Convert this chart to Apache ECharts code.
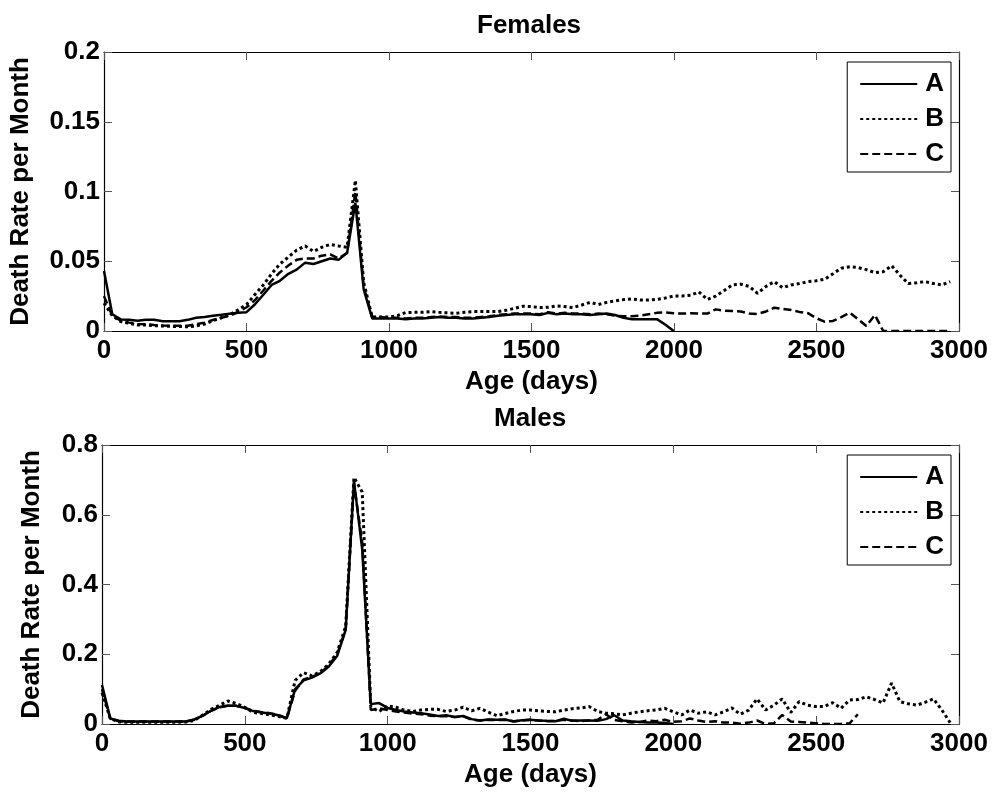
<!DOCTYPE html>
<html>
<head>
<meta charset="utf-8">
<script src="https://cdn.jsdelivr.net/npm/echarts@6/dist/echarts.min.js"></script>
<style>html,body{margin:0;padding:0;background:#fff}#c{width:996px;height:792px}</style>
</head>
<body>
<div id="c"></div>
<script>
// Age in days (monthly sampling)
const ages = [0,29,59,88,118,147,176,206,235,265,294,323,353,382,412,441,470,500,529,559,
588,617,647,676,706,735,764,794,823,853,882,911,941,970,1000,1029,1058,1088,1117,1147,
1176,1205,1235,1264,1294,1323,1352,1382,1411,1441,1470,1499,1529,1558,1588,1617,1646,1676,1705,1735,
1764,1793,1823,1852,1882,1911,1940,1970,1999,2029,2058,2087,2117,2146,2176,2205,2234,2264,2293,2323,
2352,2381,2411,2440,2470,2499,2528,2558,2587,2617,2646,2675,2705,2734,2764,2793,2822,2852,2881,2911,
2940,2969];

const seriesNames = ['A','B','C'];
const xTicks = [0,500,1000,1500,2000,2500,3000];
const femaleYTicks = [0,0.05,0.1,0.15,0.2];
const maleYTicks = [0,0.2,0.4,0.6,0.8];

// Females
const femaleA = [0.043,0.012,0.0083,0.008,0.0074,0.008,0.008,0.007,0.007,0.007,
0.008,0.0095,0.010,0.011,0.0117,0.0124,0.013,0.0135,0.019,0.026,
0.033,0.036,0.041,0.044,0.049,0.048,0.050,0.052,0.051,0.056,
0.092,0.030,0.009,0.009,0.009,0.009,0.0085,0.009,0.009,0.0095,
0.010,0.0095,0.0095,0.009,0.009,0.0095,0.010,0.011,0.0115,0.012,
0.012,0.012,0.0115,0.013,0.012,0.0125,0.012,0.012,0.0115,0.012,
0.0125,0.0115,0.0095,0.0085,0.0085,0.0085,0.0085,0.0045,0];
const femaleB = [0.020,0.011,0.0067,0.0055,0.0043,0.0043,0.0038,0.0036,0.0033,0.0033,
0.003,0.0036,0.005,0.0074,0.0095,0.0117,0.015,0.019,0.026,0.033,
0.041,0.048,0.053,0.058,0.061,0.057,0.060,0.062,0.061,0.060,
0.108,0.035,0.010,0.010,0.010,0.011,0.0132,0.0134,0.0134,0.0139,
0.0134,0.013,0.0127,0.0134,0.0139,0.0139,0.0139,0.014,0.0148,0.0163,
0.0177,0.0175,0.0168,0.017,0.018,0.0175,0.0168,0.0186,0.0205,0.019,
0.0205,0.0215,0.0225,0.023,0.0222,0.0222,0.0227,0.0237,0.0251,0.0251,
0.0256,0.028,0.0225,0.025,0.029,0.033,0.0335,0.032,0.027,0.032,
0.0354,0.031,0.033,0.034,0.0354,0.036,0.037,0.041,0.045,0.046,
0.0455,0.044,0.0418,0.0425,0.0468,0.040,0.034,0.0346,0.0354,0.034,
0.033,0.0354];
const femaleC = [0.025,0.011,0.0074,0.006,0.005,0.0048,0.0043,0.004,0.0038,0.0038,
0.0038,0.0048,0.006,0.0079,0.0095,0.011,0.0135,0.017,0.022,0.029,
0.036,0.042,0.047,0.051,0.052,0.052,0.054,0.055,0.052,0.056,
0.100,0.032,0.010,0.010,0.0095,0.0095,0.009,0.0095,0.0095,0.010,
0.0105,0.010,0.010,0.0095,0.0095,0.010,0.0105,0.0115,0.012,0.0125,
0.0125,0.0125,0.012,0.0135,0.0125,0.013,0.0125,0.0125,0.012,0.0125,
0.012,0.011,0.0105,0.0105,0.011,0.012,0.013,0.0133,0.0127,0.0125,
0.0127,0.0125,0.0125,0.0155,0.0146,0.0143,0.014,0.0125,0.0122,0.014,
0.0167,0.0158,0.015,0.0137,0.0128,0.0092,0.0067,0.0072,0.010,0.0131,
0.0084,0.0036,0.0115,0,0,0,0,0,0,0,
0,0];

// Males
const maleA = [0.112,0.016,0.0096,0.007,0.007,0.007,0.007,0.007,0.007,0.007,
0.007,0.013,0.024,0.038,0.049,0.053,0.052,0.046,0.037,0.033,
0.030,0.025,0.016,0.10,0.125,0.133,0.145,0.165,0.195,0.27,
0.697,0.50,0.057,0.060,0.046,0.040,0.036,0.033,0.031,0.027,
0.023,0.025,0.020,0.023,0.014,0.010,0.013,0.012,0.013,0.007,
0.011,0.012,0.010,0.009,0.008,0.015,0.009,0.010,0.010,0.009,
0.014,0.025,0.010,0.008,0.006,0.004,0.004,0.003,0];
const maleB = [0.09,0.015,0.006,0.005,0.005,0.005,0.005,0.005,0.005,0.005,
0.006,0.010,0.026,0.042,0.054,0.066,0.059,0.048,0.033,0.030,
0.026,0.022,0.016,0.125,0.147,0.138,0.150,0.172,0.205,0.28,
0.707,0.665,0.048,0.036,0.052,0.048,0.040,0.036,0.040,0.042,
0.042,0.036,0.040,0.048,0.038,0.045,0.034,0.024,0.030,0.036,
0.040,0.040,0.038,0.036,0.035,0.040,0.044,0.046,0.050,0.036,
0.031,0.029,0.026,0.031,0.035,0.038,0.040,0.045,0.035,0.026,
0.040,0.031,0.035,0.026,0.035,0.046,0.028,0.040,0.072,0.040,
0.054,0.072,0.033,0.064,0.054,0.050,0.050,0.061,0.045,0.069,
0.070,0.078,0.070,0.060,0.117,0.064,0.058,0.054,0.062,0.072,
0.040,0.004];
const maleC = [0.10,0.015,0.008,0.007,0.007,0.007,0.007,0.007,0.007,0.007,
0.007,0.012,0.024,0.038,0.048,0.052,0.052,0.046,0.038,0.034,
0.031,0.026,0.017,0.095,0.128,0.135,0.146,0.168,0.20,0.27,
0.69,0.52,0.040,0.045,0.040,0.036,0.033,0.030,0.028,0.024,
0.022,0.022,0.020,0.022,0.012,0.010,0.012,0.011,0.012,0.008,
0.010,0.012,0.010,0.008,0.009,0.012,0.010,0.008,0.010,0.012,
0.028,0.012,0.008,0.004,0.006,0.010,0.008,0.012,0.006,0.008,
0.016,0.010,0.006,0.008,0.004,0.004,0.001,0.004,0.010,0,
0.002,0.026,0.007,0.006,0.004,0.002,0,0,0,0.002,
0.028];

function pairs(vals){ return vals.map((v,i)=>[ages[i], v]); }

const FONT = '"Liberation Sans", Arial, sans-serif';
const txt = {fontFamily: FONT, fontWeight: 'bold', fontSize: 26, color: '#000'};
const styles = {
  A: {color:'#000', width:2.5, type:'solid'},
  B: {color:'#000', width:3, type:[3,3], cap:'butt'},
  C: {color:'#000', width:2.5, type:[8,4], cap:'butt'}
};

const grids = [
  {left:102, top:52, width:857, height:279},
  {left:102, top:445, width:857, height:279}
];
const yMax = [0.2, 0.8];
const yInt = [0.05, 0.2];
const fmt = v => String(v);

const axLine = {show:true, onZero:false, lineStyle:{color:'#000', width:1.2}};
const axTick = {show:true, inside:true, length:8, lineStyle:{color:'#555', width:1}};

const xAxes = [], yAxes = [];
grids.forEach((g, gi) => {
  xAxes.push({
    gridIndex: gi, type:'value', min:xTicks[0], max:xTicks[xTicks.length-1], interval:500, position:'bottom',
    axisLine:axLine, axisTick:axTick,
    axisLabel:Object.assign({margin:7, formatter:fmt}, txt),
    splitLine:{show:false},
    name:'Age (days)', nameLocation:'middle', nameGap:38, nameTextStyle:txt
  });
  xAxes.push({
    gridIndex: gi, type:'value', min:xTicks[0], max:xTicks[xTicks.length-1], interval:500, position:'top',
    axisLine:axLine, axisTick:axTick,
    axisLabel:{show:false}, splitLine:{show:false}
  });
  yAxes.push({
    gridIndex: gi, type:'value', min:0, max:yMax[gi], interval:yInt[gi], position:'left',
    axisLine:axLine, axisTick:axTick,
    axisLabel:Object.assign({margin:4, formatter:fmt}, txt),
    splitLine:{show:false},
    name:'Death Rate per Month', nameLocation:'middle', nameGap: gi===0 ? 70 : 57, nameTextStyle:txt
  });
  yAxes.push({
    gridIndex: gi, type:'value', min:0, max:yMax[gi], interval:yInt[gi], position:'right',
    axisLine:axLine, axisTick:axTick,
    axisLabel:{show:false}, splitLine:{show:false}
  });
});

const data = [[femaleA, femaleB, femaleC],[maleA, maleB, maleC]];
const series = [];
data.forEach((set, gi) => {
  set.forEach((vals, si) => {
    const nm = seriesNames[si];
    series.push({
      name: nm, type:'line', xAxisIndex: gi*2, yAxisIndex: gi*2,
      data: pairs(vals), symbol:'none', showSymbol:false, smooth:false,
      itemStyle:{color:'#000'},
      lineStyle: styles[nm], z: 3 - si
    });
  });
});

const legendBase = {
  orient:'vertical', right:45, itemWidth:57, itemHeight:14, itemGap:5,
  selectedMode:false, borderColor:'#000', borderWidth:1, padding:[7,7,3,12],
  itemStyle:{opacity:0},
  textStyle:Object.assign({lineHeight:30, padding:[0,0,0,3]}, txt),
  data: seriesNames, backgroundColor:'#fff'
};

const chart = echarts.init(document.getElementById('c'), null, {renderer:'canvas'});
chart.setOption({
  animation:false,
  backgroundColor:'#fff',
  title:[
    {text:'Females', left:477, top:13, padding:0, textStyle:txt},
    {text:'Males', left:494, top:406, padding:0, textStyle:txt}
  ],
  legend:[
    Object.assign({top:62}, legendBase),
    Object.assign({top:455}, legendBase)
  ],
  grid: grids,
  xAxis: xAxes,
  yAxis: yAxes,
  series: series
});
</script>
</body>
</html>
